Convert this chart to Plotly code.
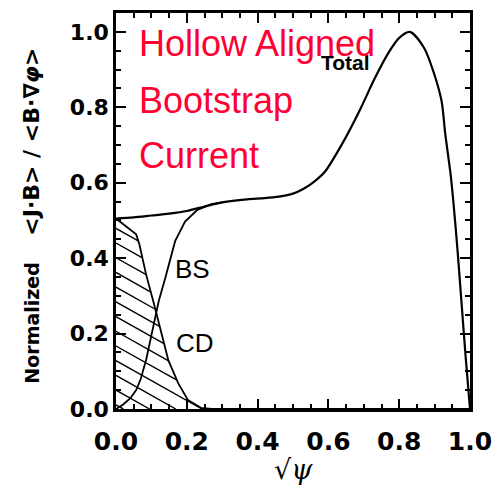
import numpy as np
import plotly.graph_objects as go

# Normalized parallel current profiles vs sqrt(psi)
total_x = [0.0, 0.05, 0.10, 0.15, 0.20, 0.25, 0.30, 0.37, 0.42, 0.46, 0.50, 0.53, 0.56,
           0.59, 0.64, 0.69, 0.73, 0.77, 0.80, 0.83, 0.87, 0.90, 0.92, 0.93, 0.945,
           0.953, 0.965, 0.977, 0.988, 1.0]
total_y = [0.505, 0.508, 0.513, 0.518, 0.525, 0.537, 0.548, 0.556, 0.559, 0.563, 0.571,
           0.584, 0.603, 0.629, 0.705, 0.795, 0.875, 0.945, 0.984, 1.0, 0.958, 0.885,
           0.815, 0.73, 0.624, 0.55, 0.418, 0.27, 0.135, 0.0]

bs_x = [0.0, 0.02, 0.04, 0.057, 0.07, 0.085, 0.107, 0.121, 0.14, 0.167, 0.195, 0.23,
        0.27, 0.30]
bs_y = [0.0, 0.012, 0.028, 0.05, 0.08, 0.13, 0.226, 0.287, 0.35, 0.445, 0.497, 0.528,
        0.543, 0.548]

cd_x = [0.0, 0.057, 0.066, 0.085, 0.107, 0.126, 0.148, 0.176, 0.203, 0.24, 0.27, 1.0]
cd_y = [0.505, 0.463, 0.437, 0.357, 0.28, 0.208, 0.129, 0.068, 0.024, 0.003, 0.0, 0.0]

tick_vals = [0.0, 0.2, 0.4, 0.6, 0.8, 1.0]
tick_text = ["0.0", "0.2", "0.4", "0.6", "0.8", "1.0"]

# hatch lines filling the region under the CD curve
hatch_slope = 0.527
hatch_step = 0.039
hx = np.linspace(0, 0.3, 2401)
cd_interp = np.interp(hx, cd_x, cd_y)
seg_x, seg_y = [], []
for k in range(14):
    c = 0.011 + hatch_step * k
    yl = c - hatch_slope * hx
    inside = (yl >= 0) & (yl <= cd_interp)
    idx = np.where(inside)[0]
    if idx.size == 0:
        continue
    breaks = np.where(np.diff(idx) > 1)[0]
    starts = np.concatenate(([idx[0]], idx[breaks + 1]))
    ends = np.concatenate((idx[breaks], [idx[-1]]))
    for a, b in zip(starts, ends):
        seg_x += [hx[a], hx[b], None]
        seg_y += [yl[a], yl[b], None]

fig = go.Figure()
fig.add_trace(go.Scatter(x=seg_x, y=seg_y, mode="lines",
                         line=dict(color="black", width=1.4), hoverinfo="skip"))
fig.add_trace(go.Scatter(x=cd_x, y=cd_y, mode="lines",
                         line=dict(color="black", width=1.8)))
fig.add_trace(go.Scatter(x=bs_x, y=bs_y, mode="lines",
                         line=dict(color="black", width=1.8)))
fig.add_trace(go.Scatter(x=total_x, y=total_y, mode="lines",
                         line=dict(color="black", width=2.2, shape="spline", smoothing=0.8)))

axis_common = dict(
    showline=True, linewidth=2.5, linecolor="black", mirror="ticks",
    ticks="inside", ticklen=10, tickwidth=2, tickcolor="black",
    showgrid=False, zeroline=False,
    minor=dict(ticks="inside", ticklen=5, tickwidth=1.5, tickcolor="black", dtick=0.05,
               showgrid=False),
    tickvals=tick_vals, ticktext=tick_text, ticklabeloverflow="allow",
)
fig.update_xaxes(range=[0, 1], ticklabelstandoff=8,
                 tickfont=dict(family="DejaVu Sans", size=25, color="black", weight="bold"),
                 **axis_common)
fig.update_yaxes(range=[0, 1.05],
                 tickfont=dict(family="DejaVu Sans", size=22, color="black", weight="bold"),
                 **axis_common)

annotations = [
    dict(text="<b>Total</b>", x=0.648, y=0.918, font=dict(family="Liberation Sans", size=21)),
    dict(text="BS", x=0.217, y=0.371, font=dict(family="Liberation Sans", size=26)),
    dict(text="CD", x=0.222, y=0.174, font=dict(family="Liberation Sans", size=26)),
    dict(text="Hollow Aligned", x=0.06, y=0.969, xanchor="left",
         font=dict(family="Liberation Sans", size=36, color="#ff0033")),
    dict(text="Bootstrap", x=0.06, y=0.819, xanchor="left",
         font=dict(family="Liberation Sans", size=36, color="#ff0033")),
    dict(text="Current", x=0.06, y=0.673, xanchor="left",
         font=dict(family="Liberation Sans", size=36, color="#ff0033")),
]
for a in annotations:
    a.setdefault("xanchor", "center")
    a["font"].setdefault("color", "black")
    fig.add_annotation(xref="x", yref="y", yanchor="middle", showarrow=False, **a)

fig.add_annotation(xref="paper", yref="paper", x=-0.238, y=0.4875, showarrow=False,
                   textangle=-90, xanchor="center", yanchor="middle",
                   text=("<b>Normalized    <span style='font-size:22px'>&lt;J∙B&gt; / "
                         "&lt;B∙∇<i>φ</i>&gt;</span></b>"),
                   font=dict(family="DejaVu Sans", size=19, color="black"))
fig.add_annotation(xref="paper", yref="paper", x=0.5, y=-0.152, showarrow=False,
                   xanchor="center", yanchor="middle",
                   text="√<i>ψ</i>",
                   font=dict(family="DejaVu Serif", size=27, color="black"))

fig.update_layout(width=502, height=487, margin=dict(l=116, r=22, t=10, b=78),
                  plot_bgcolor="white", paper_bgcolor="white", showlegend=False)

fig.write_html("out.html")
